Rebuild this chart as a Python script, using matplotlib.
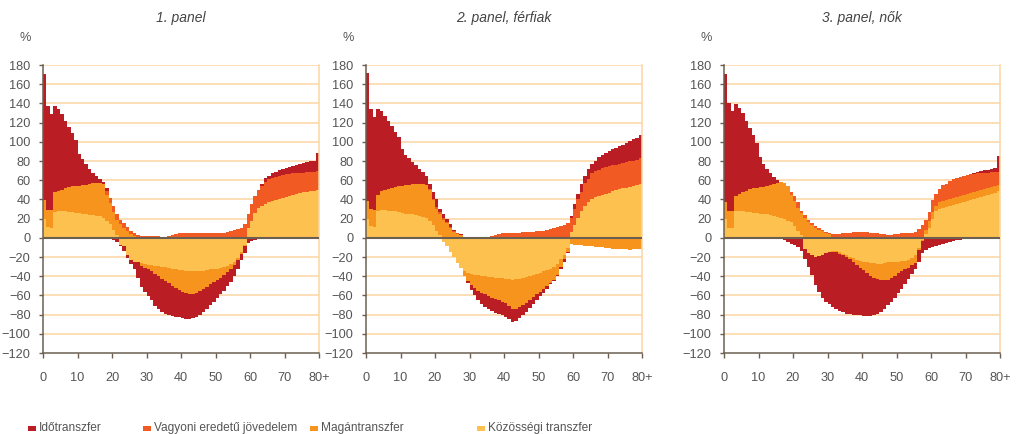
import numpy as np
import matplotlib
matplotlib.use("Agg")
import matplotlib.pyplot as plt
from matplotlib.patches import Rectangle
from matplotlib import font_manager

_names = {f.name for f in font_manager.fontManager.ttflist}
_narrow = 'Liberation Sans Narrow' in _names
plt.rcParams['font.family'] = (['Liberation Sans Narrow', 'DejaVu Sans'] if _narrow
                               else ['Liberation Sans', 'DejaVu Sans'])
tick_fs = 10.5 if _narrow else 9.2
legend_fs = 10 if _narrow else 8.6
title_fs = 11 if _narrow else 10

# ---------------- data ----------------
ages = list(range(80))                     # 0 ... 79 (last bar = 80+)
x_ticks = [0, 10, 20, 30, 40, 50, 60, 70, 80]
x_tick_labels = ['0', '10', '20', '30', '40', '50', '60', '70', '80+']
y_ticks = list(range(-120, 181, 20))
panel_titles = ['1. panel', '2. panel, férfiak', '3. panel, nők']
series_names = ['Időtranszfer', 'Vagyoni eredetű jövedelem', 'Magántranszfer', 'Közösségi transzfer']

# Panel 1
kozossegi_1 = [20, 11, 10, 27, 28, 28, 28, 27, 27, 26, 26, 25, 25, 24, 24, 23, 23, 21, 18, 14,
               8, 3, -7, -9, -18, -23, -25, -25, -26, -27, -28, -28.5, -29, -29.5, -30, -30.5, -31, -32, -33, -33.5,
               -34, -34.5, -35, -35, -35, -35, -34.5, -34, -33, -32.5, -32, -31, -30, -29, -27.5, -25, -21.5, -14.5, -7.5, 10,
               18, 26, 31, 33, 35, 37, 38, 39, 40, 41, 43, 44, 45, 46, 47, 47.5, 48, 48.5, 49, 50]
magan_1 = [19, 18, 19, 21, 21, 22, 24, 26, 27, 28, 28, 30, 30, 32, 33, 34, 34, 35, 27, 22,
           19, 16, 14, 10, 7, 4, 2, 1, -3, -4, -5, -6.5, -9, -10.5, -13, -14.5, -16, -18, -19, -20.5,
           -22, -23.5, -24, -23.5, -22, -20, -18.5, -17, -15, -13.5, -12, -10.5, -9, -7, -5.5, -3.5, -1.5, -2.5, -1.5, 0,
           0, 0, 0, 0, 0, 0, 0, 0, 0, 0, 0, 0, 0, 0, 0, 0, 0, 0, 0, 0]
vagyoni_1 = [0, 0, 0, 0, 0, 0, 0, 0, 0, 0, 0, 0, 0, 0, 0, 0, 0, 0.5, 4, 5,
             6, 6, 5, 5, 4, 3, 2.5, 2, 2, 2, 2, 2, 2, 1.5, 1, 1, 1.5, 2.5, 4, 5,
             5.5, 5.5, 5.5, 5.5, 5.5, 5, 5, 5, 4.5, 4.5, 4.5, 5, 5.5, 6, 7, 8, 9, 10, 14, 15,
             17, 18, 19, 21, 23, 24, 24.5, 24.5, 24.5, 24, 23, 22.5, 22, 21.5, 21, 20.5, 20.5, 20.5, 20, 19.5]
ido_1 = [132, 108, 100, 89, 85, 79, 70, 62, 55, 48, 33, 27, 22, 16, 11, 7, 4, 2, 3, -1,
         -2, -4, -2, -5, -3, -4, -8, -17, -22, -25, -28, -30, -33, -34, -34, -34, -33, -31, -30, -29,
         -28, -27, -26, -25.5, -25.5, -25, -24, -23, -22, -20.5, -19, -17.5, -16, -14.5, -13, -11.5, -10, -6, -7, -5,
         -3.5, -2, -1, 2, 4.5, 3, 4.5, 5.5, 6, 7, 7, 7.5, 8, 8.5, 9, 10, 10.5, 11, 11, 18.5]

# Panel 2 (férfiak)
kozossegi_2 = [20, 12, 11, 27.5, 28.5, 28.5, 28, 27.5, 27.5, 26.5, 26, 25, 25, 24.5, 24, 23, 22, 21, 17, 13,
               7.5, 3, -4, -9, -15, -20.5, -26, -31.5, -35, -37, -38, -38.5, -39, -39.5, -40, -40.5, -41, -41.5, -41.7, -42,
               -42.4, -43, -43.5, -43, -42.4, -41.5, -40.7, -40, -39, -38, -36.5, -35, -33.7, -32, -30, -27, -22.6, -17.4, -11, 6,
               13, 21, 28, 33, 37.5, 40, 42, 43.5, 45, 46, 47, 48.5, 49.5, 50.5, 51.5, 52, 53, 54, 55, 56]
magan_2 = [18.5, 17.5, 18, 17, 20.5, 21.5, 23, 24.5, 25.5, 27.5, 28, 29.5, 30, 31.5, 32.5, 33, 34, 34, 33, 26,
           23, 21.5, 19, 15, 10, 6, 4, 2.5, -5, -8, -11, -13.5, -16, -17.5, -19, -20.5, -21.5, -22.5, -23.3, -24.5,
           -25.6, -28.5, -31, -31, -30, -28.5, -27.3, -25, -23, -21, -19.5, -18, -16.3, -15, -14, -12, -7.4, -5.2, -3.6, -6,
           -7, -7.3, -7.6, -8.2, -8.7, -9, -9.4, -9.7, -10, -10.4, -10.8, -11.2, -11.5, -11.8, -12, -12.1, -12.2, -12, -11.8, -11.8]
vagyoni_2 = [0, 0, 0, 0, 0, 0, 0, 0, 0, 0, 0, 0, 0, 0, 0, 0, 0, 0, 1, 1.5,
             2, 2, 2, 1.5, 1.5, 1, 0.5, 0.5, 0.5, 0.5, 0.5, 0.5, 0.5, 0.5, 0.5, 1, 1.5, 3, 4, 5,
             5.5, 5.5, 5.5, 5.5, 5.5, 6, 6.5, 6.5, 6.5, 7, 7, 7.5, 8, 9, 10, 11, 12.5, 13.5, 15, 15,
             17, 19, 20, 23.6, 23.5, 27, 28, 27.6, 28, 28, 28, 27, 26.7, 26.4, 26, 26.5, 26.5, 26, 26, 27.4]
ido_2 = [133.5, 104.5, 96.5, 89.5, 83, 77, 71, 64, 57.5, 50.5, 38, 31.5, 28, 22.5, 19.5, 16, 13, 9, 5, 7.5,
         7.5, 4, 4, 3, 2.5, 1, 0.5, 0.5, 0.5, -2, -5, -8, -10, -12, -13, -13, -13.5, -14, -14, -14,
         -14, -13.5, -13, -13, -11.6, -10.5, -9, -8, -6.5, -6, -5, -4, -3, -1, -1, -1, -2, -2.4, -1.4, 1.6,
         5, 5.5, 8, 7.4, 11, 10, 10, 13, 13, 14.6, 15.7, 16.7, 17.6, 18.7, 19.5, 20.5, 21.5, 22.5, 23, 23.6]

# Panel 3 (nők)
kozossegi_3 = [20, 10, 10, 27.5, 27.5, 27.5, 27, 26.4, 25.7, 25.7, 25, 24.8, 24.3, 24, 23, 21.5, 20.5, 19.5, 18, 16.3,
               11.8, 7.3, 3, -12, -16, -17.7, -19.5, -18.5, -17.7, -16, -15, -14, -14.2, -15.3, -16.5, -17.5, -19.5, -21.2, -23, -24,
               -24.7, -25.4, -26, -26.4, -26.8, -26.8, -26.4, -25.7, -25.4, -25, -24.7, -24.3, -24, -23, -21.2, -17.7, -10.8, -2, 4, 10,
               20, 27.5, 30, 31.5, 32.5, 33.5, 34.5, 35.5, 36.5, 37.5, 38.5, 39.5, 40.5, 41.5, 42.5, 43.5, 44.5, 45.5, 46.5, 48.5]
magan_3 = [17, 18, 18, 16, 18.5, 20.5, 22, 24, 25.7, 26.3, 27.8, 28.2, 29.7, 31, 33.3, 35.8, 37.2, 37.8, 35.5, 28.7,
           26.2, 23.7, 22.7, 20.5, 16.3, 12.9, 10, 8.3, 6.6, 4.9, 3.5, -0.5, -1, -1.5, -1, -2, -2.5, -3.8, -5, -7,
           -9.3, -11.6, -13.5, -15, -16.2, -17.2, -18, -17.8, -16, -14.5, -12.3, -10.7, -9, -8, -7.3, -8.3, -2.2, -1, 4, 8,
           7, 5.5, 7, 7, 7, 7, 7, 7, 7, 7, 7, 7, 7, 7, 7, 7, 7, 7, 7, 6.5]
vagyoni_3 = [0, 0, 0, 0, 0, 0, 0, 0, 0, 0, 0, 0, 0, 0, 0, 0, 0, 0, 0.5, 3,
             5.4, 6.5, 2.3, 3.1, 2.1, 2.1, 2, 1.4, 1.4, 1.1, 1, 4, 4, 4, 4.5, 5, 5.5, 6, 6, 6.3,
             6.3, 6, 5.5, 5, 4.5, 4, 3.5, 3, 3, 3.5, 4, 4.5, 4.5, 4.5, 5, 6, 8.7, 13, 10.4, 9,
             12, 13, 14, 16.5, 17, 19, 19.5, 19.5, 19.5, 19.5, 19.5, 19.5, 19, 18.5, 18, 17.5, 16.5, 16, 15, 14]
ido_3 = [133.6, 112.7, 104.4, 95.6, 89.5, 81.6, 72.6, 63.6, 55.6, 47, 30.9, 23.4, 18, 12.8, 7.3, 2.7, 0.7, -2.4, -4, -6,
         -7.7, -9.4, -13.6, -9.6, -14, -21.3, -30, -37.5, -45.3, -50.8, -54, -57.5, -59.2, -59.2, -60, -59.5, -57.7, -55, -52.3, -49.7,
         -47, -44.4, -41.9, -38.9, -36, -33, -29.3, -26.5, -25.4, -22.8, -21, -17.9, -14.7, -11.4, -8.7, -6, -12, -13.3, -12.9, -11,
         -9.4, -8.3, -7, -6, -4.9, -4.2, -3.5, -2.8, -2, -1.4, -1, -0.7, 0.5, 2, 2.5, 2.5, 3, 3.5, 4.5, 16]

panels = [
    (ido_1, vagyoni_1, magan_1, kozossegi_1),
    (ido_2, vagyoni_2, magan_2, kozossegi_2),
    (ido_3, vagyoni_3, magan_3, kozossegi_3),
]

# ---------------- style ----------------
colors = ['#BA1E24', '#F15A22', '#F7941E', '#FDC14F']   # Idő, Vagyoni, Magán, Közösségi
grid_color = '#FCD6A4'
axis_color = '#6B5F52'
text_color = '#555555'

W, H = 1016, 434
fig = plt.figure(figsize=(W / 100, H / 100), dpi=100)

lefts_px = [43, 366, 724]
ax_w_px = 276
top_px, bottom_px = 65, 353

for i, (left_px, series) in enumerate(zip(lefts_px, panels)):
    ax = fig.add_axes([left_px / W, 1 - bottom_px / H, ax_w_px / W, (bottom_px - top_px) / H])
    ax.set_xlim(0, 80)
    ax.set_ylim(-120, 180)
    x = np.array(ages)
    pos_bottom = np.zeros(len(ages))
    neg_bottom = np.zeros(len(ages))
    # stacking order from the zero line outward: Közösségi, Magán, Vagyoni, Idő
    for vals, col in zip(reversed(series), reversed(colors)):
        v = np.array(vals, dtype=float)
        p = np.clip(v, 0, None)
        n = np.clip(v, None, 0)
        ax.bar(x, p, width=1, bottom=pos_bottom, align='edge', color=col,
               linewidth=0, antialiased=False, zorder=2)
        ax.bar(x, n, width=1, bottom=neg_bottom, align='edge', color=col,
               linewidth=0, antialiased=False, zorder=2)
        pos_bottom += p
        neg_bottom += n

    ax.set_yticks(y_ticks)
    ax.set_yticklabels([str(t).replace('-', '\u2212') for t in y_ticks])
    ax.set_xticks(x_ticks)
    ax.set_xticklabels(x_tick_labels)
    for t in y_ticks:
        if t not in (0, -120):
            ax.axhline(t, color=grid_color, linewidth=1.1, zorder=1)
    ax.axhline(0, color=axis_color, linewidth=1.5, zorder=4)

    ax.spines['top'].set_visible(False)
    ax.spines['right'].set_color(grid_color)
    ax.spines['right'].set_linewidth(1.1)
    for s in ['left', 'bottom']:
        ax.spines[s].set_color(axis_color)
        ax.spines[s].set_linewidth(1.1)
        ax.spines[s].set_zorder(5)

    ax.tick_params(axis='y', length=3, width=1, color=axis_color, pad=6,
                   labelsize=tick_fs, labelcolor=text_color)
    ax.tick_params(axis='x', length=3.5, width=1, color=axis_color, pad=10,
                   labelsize=tick_fs, labelcolor=text_color)

    ax.set_title(panel_titles[i], fontsize=title_fs, style='italic', color='#444444', pad=0,
                 y=1 + (top_px - 18) / (bottom_px - top_px), va='center')
    fig.text((left_px - 18) / W, 1 - 38 / H, '%', fontsize=tick_fs, color=text_color,
             ha='center', va='center')

# ---------------- legend ----------------
leg_x_px = [28, 143, 310, 477]
leg_y_px = 428
for lx, name, col in zip(leg_x_px, series_names, colors):
    fig.add_artist(Rectangle((lx / W, 1 - (leg_y_px + 2.5) / H), 8 / W, 5 / H,
                             transform=fig.transFigure, facecolor=col, edgecolor='none'))
    fig.text((lx + 11) / W, 1 - leg_y_px / H, name, fontsize=legend_fs, color=text_color,
             ha='left', va='center')

fig.savefig('out.png', dpi=100)
